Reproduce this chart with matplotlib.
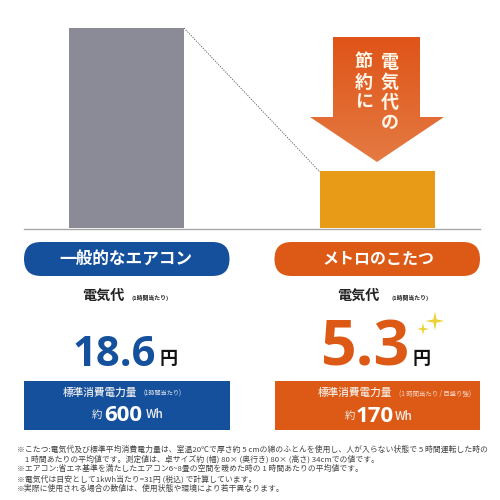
import matplotlib
matplotlib.use("Agg")
import matplotlib.pyplot as plt
import numpy as np
from matplotlib.patches import FancyBboxPatch, Polygon, Rectangle

plt.rcParams['font.family'] = ['Noto Sans CJK JP', 'DejaVu Sans']

# values
products = ["一般的なエアコン", "メトロのこたつ"]
cost_yen = [18.6, 5.3]
cost_labels = ["18.6", "5.3"]
power_wh = ["600", "170"]
power_notes = ["(1時間当たり)", "(1 時間当たり / 目盛り強)"]
bar_colors = ["#8b8b97", "#e89b17"]
panel_colors = ["#15509c", "#dd5a16"]
notes = [
    "※こたつ:電気代及び標準平均消費電力量は、室温20℃で厚さ約 5 cmの綿のふとんを使用し、人が入らない状態で 5 時間運転した時の",
    "　1 時間あたりの平均値です。測定値は、卓サイズ約 (幅) 80× (奥行き) 80× (高さ) 34cmでの値です。",
    "※エアコン:省エネ基準を満たしたエアコン6~8畳の空間を暖めた時の 1 時間あたりの平均値です。",
    "※電気代は目安として1kWh当たり=31円 (税込) で計算しています。",
    "※実際に使用される場合の数値は、使用状態や環境により若干異なります。",
]

fig = plt.figure(figsize=(5, 5), dpi=100)

# overlay in pixel coords, y down
bg = fig.add_axes([0, 0, 1, 1])
bg.set_xlim(0, 500)
bg.set_ylim(500, 0)
bg.axis("off")

# bar chart, 28..228 px tall and scaled so 18.6 hits the top
ax = fig.add_axes([0, 1 - 228 / 500, 1, 200 / 500])
ax.set_xlim(0, 500)
ax.set_ylim(0, cost_yen[0])
ax.axis("off")
ax.patch.set_alpha(0)
ax.bar([126.5, 377.5], cost_yen, width=115, color=bar_colors, zorder=2)

bg.plot([24, 480], [228.7, 228.7], color="#a8a8a8", lw=1, zorder=1)
bg.plot([184, 320], [28, 172], color="#555555", lw=0.6, ls=(0, (1.5, 1.5)))

# arrow with vertical gradient
arrow = Polygon([(333, 37), (420, 37), (420, 117), (444, 117), (377, 162),
                 (310, 117), (333, 117)], closed=True, fc="none", ec="none")
bg.add_patch(arrow)
grad = np.linspace(0, 1, 128).reshape(-1, 1, 1)
c0 = np.array([223, 84, 24]) / 255
c1 = np.array([228, 122, 66]) / 255
img = bg.imshow(c0 + (c1 - c0) * grad, extent=(310, 444, 162, 37), aspect="auto", zorder=3)
img.set_clip_path(arrow)
bg.set_xlim(0, 500)
bg.set_ylim(500, 0)

for s, y in zip("電気代の", [62, 82, 102, 122]):
    bg.text(390, y, s, color="#fff6ea", fontsize=13, fontweight="bold", ha="center", va="center", zorder=4)
for s, y in zip("節約に", [62, 82, 102]):
    bg.text(364, y, s, color="#fff6ea", fontsize=13, fontweight="bold", ha="center", va="center", zorder=4)

# pills + lower panels
label_x = [126, 378]
label_size = [12, 11.5]
for i, x0 in enumerate([24, 274.5]):
    bg.add_patch(FancyBboxPatch((x0, 242), 205.5, 34, boxstyle="round,pad=0,rounding_size=17",
                                fc=panel_colors[i], ec="none"))
    bg.text(label_x[i], 259, products[i], color="white", fontsize=label_size[i], fontweight="bold",
            ha="center", va="center")
    bg.add_patch(Rectangle((x0, 381), 205.5, 49, fc=panel_colors[i], ec="none"))

bg.text(103, 296, "電気代", fontsize=10.2, fontweight="bold", color="#222222", ha="center", va="center")
bg.text(150, 298, "(1時間当たり)", fontsize=4.2, fontweight="bold", color="#222222", ha="center", va="center")
bg.text(358, 296, "電気代", fontsize=10.2, fontweight="bold", color="#222222", ha="center", va="center")
bg.text(410, 298, "(1時間当たり)", fontsize=4.2, fontweight="bold", color="#222222", ha="center", va="center")

bg.text(114.5, 366, cost_labels[0], color=panel_colors[0], fontsize=30, fontweight="bold",
        family="Open Sans", ha="center", va="baseline")
bg.text(169, 358, "円", color="#111111", fontsize=13, fontweight="bold", ha="center", va="center")
bg.text(366, 366, cost_labels[1], color=panel_colors[1], fontsize=45, fontweight="bold",
        family="Open Sans", ha="center", va="baseline")
bg.text(422, 358, "円", color="#111111", fontsize=13, fontweight="bold", ha="center", va="center")

# sparkles
for cx, cy, r, w in [(435, 321, 9.5, 1.6), (423, 329, 6, 1.1)]:
    pts = [(cx, cy - r), (cx + w, cy - w), (cx + r, cy), (cx + w, cy + w),
           (cx, cy + r), (cx - w, cy + w), (cx - r, cy), (cx - w, cy - w)]
    bg.add_patch(Polygon(pts, closed=True, fc="#ecd233", ec="none"))

# panel text
bg.text(99.5, 393, "標準消費電力量", color="#f0f0f0", fontsize=7.7, fontweight="medium", ha="center", va="center")
bg.text(163, 394, power_notes[0], color="#e4e8f0", fontsize=4.4, ha="center", va="center")
bg.text(97, 415, "約", color="#f0f0f0", fontsize=7.5, ha="center", va="center")
bg.text(123, 421, power_wh[0], color="white", fontsize=16, fontweight="bold", family="Open Sans", ha="center", va="baseline")
bg.text(154.5, 415, "Wh", color="#f0f0f0", fontsize=8.5, fontweight="medium", ha="center", va="center")

bg.text(354.5, 393, "標準消費電力量", color="#f5eee8", fontsize=7.7, fontweight="medium", ha="center", va="center")
bg.text(435, 394, power_notes[1], color="#f5d9c8", fontsize=4.6, ha="center", va="center")
bg.text(350, 416, "約", color="#f5eee8", fontsize=7.5, ha="center", va="center")
bg.text(375, 422, power_wh[1], color="white", fontsize=16, fontweight="bold", family="Open Sans", ha="center", va="baseline")
bg.text(404, 416, "Wh", color="#f5eee8", fontsize=8.5, fontweight="medium", ha="center", va="center")

# footnotes
for i, line in enumerate(notes):
    bg.text(17, 450 + i * 9.7, line, fontsize=5.64, color="#444444", ha="left", va="center")

fig.savefig("out.png", dpi=100)
